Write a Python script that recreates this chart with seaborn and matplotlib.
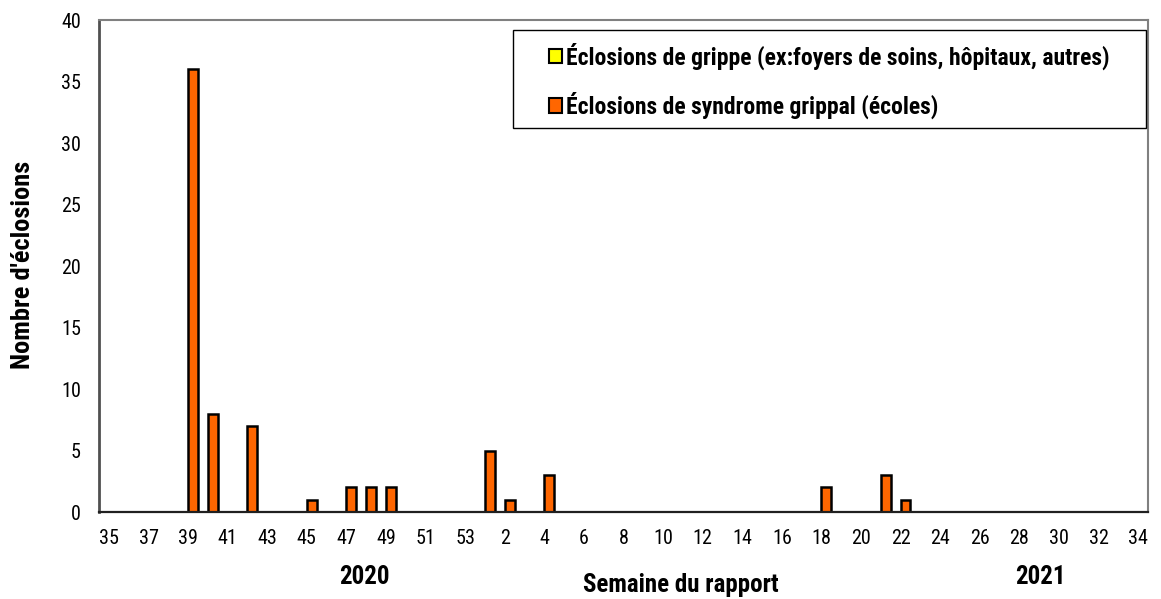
import matplotlib as mpl
mpl.use('agg')
import matplotlib.pyplot as plt
from matplotlib import font_manager
from matplotlib.ticker import FixedLocator
from matplotlib.patches import Patch, Rectangle
import numpy as np
import pandas as pd
import seaborn as sns

# Weeks of the report: 35-53 (2020) then 1-34 (2021)
weeks = [str(w) for w in range(35, 54)] + [str(w) for w in range(1, 35)]

# Outbreak counts per week (only non-zero weeks listed)
ili_nonzero = {"39": 36, "40": 8, "42": 7, "45": 1, "47": 2, "48": 2, "49": 2,
               "1": 5, "2": 1, "4": 3, "18": 2, "21": 3, "22": 1}
flu_nonzero = {}

series_names = ["Éclosions de grippe (ex:foyers de soins, hôpitaux, autres)",
                "Éclosions de syndrome grippal (écoles)"]
series_colors = ["#FFFF00", "#FF6600"]

rows = []
for w in weeks:
    rows.append({"semaine": w, "serie": series_names[0], "n": flu_nonzero.get(w, 0)})
    rows.append({"semaine": w, "serie": series_names[1], "n": ili_nonzero.get(w, 0)})
df = pd.DataFrame(rows)

sns.set_style("white")

# narrow font if one is around (original looks like Arial Narrow)
installed = {f.name: f for f in font_manager.fontManager.ttflist}
family = None
for cand in ["Liberation Sans Narrow", "Arial Narrow", "Roboto Condensed",
             "Open Sans Condensed", "DejaVu Sans Condensed"]:
    if cand in installed:
        family = cand
        break
if family is None:
    condensed = [f for f in font_manager.fontManager.ttflist
                 if f.stretch in ("condensed", "semi-condensed", 75, 87)]
    if condensed:
        family = condensed[0].name
        plt.rcParams['font.stretch'] = 'condensed'
    else:
        family = "Liberation Sans"
plt.rcParams['font.family'] = [family, 'DejaVu Sans']
plt.rcParams['text.color'] = 'black'
plt.rcParams['xtick.color'] = 'black'
plt.rcParams['ytick.color'] = 'black'
plt.rcParams['axes.labelcolor'] = 'black'

fig = plt.figure(figsize=(11.61, 5.99), dpi=100)
ax = fig.add_axes([0.0853, 0.1452, 0.9035, 0.8214])

sns.barplot(data=df, x="semaine", y="n", hue="serie", order=weeks,
            hue_order=series_names, palette=series_colors, width=1.0,
            saturation=1, edgecolor="black", linewidth=1.8, legend=False, ax=ax)

# hide zero-height bars' edges
for p in ax.patches:
    if p.get_height() == 0:
        p.set_linewidth(0)

ax.set_ylim(0, 40)
ax.set_xlim(-0.5, len(weeks) - 0.5)
ax.set_yticks(range(0, 41, 5))

# labels every other category, tick marks at category boundaries
ax.xaxis.set_major_locator(FixedLocator(list(range(0, len(weeks), 2))))
ax.set_xticklabels(weeks[::2])
ax.xaxis.set_minor_locator(FixedLocator(list(np.arange(-0.5, len(weeks), 1.0))))
ax.tick_params(axis="x", which="major", length=0, labelsize=14.5, pad=12)
ax.tick_params(axis="x", which="minor", length=6, width=1.2, color="#404040", direction="out")
ax.tick_params(axis="y", length=6, width=1.2, color="#404040", direction="out", labelsize=14.5, pad=7)

for side in ["top", "right"]:
    ax.spines[side].set_color("#808080")
    ax.spines[side].set_linewidth(1.5)
ax.spines["left"].set_color("#505050")
ax.spines["left"].set_linewidth(2)
ax.spines["bottom"].set_color("#202020")
ax.spines["bottom"].set_linewidth(1.6)

ax.set_xlabel("")
ax.set_ylabel("")
fig.text(0.020, 0.558, "Nombre d'éclosions", rotation=90, ha="center", va="center",
         fontsize=19, fontweight="bold")

fig.text(0.586, 0.023, "Semaine du rapport", ha="center", va="center",
         fontsize=18, fontweight="bold")
fig.text(0.314, 0.037, "2020", ha="center", va="center", fontsize=18, fontweight="bold")
fig.text(0.896, 0.037, "2021", ha="center", va="center", fontsize=18, fontweight="bold")

# legend frame drawn by hand (wide side padding as in the original)
ax.add_patch(Rectangle((0.3947, 0.7805), 0.6033, 0.1992, transform=ax.transAxes,
                       facecolor="white", edgecolor="black", linewidth=1.0, zorder=5))
handles = [Patch(facecolor=c, edgecolor="black", linewidth=1.5) for c in series_colors]
leg = ax.legend(handles, series_names, loc="upper left",
                bbox_to_anchor=(0.4285, 0.955), frameon=False,
                prop={"size": 17, "weight": "bold"}, handlelength=0.55,
                handleheight=0.55, handletextpad=0.2, labelspacing=0.95,
                borderpad=0, borderaxespad=0)
leg.set_zorder(6)

plt.savefig("out.png", dpi=100)
